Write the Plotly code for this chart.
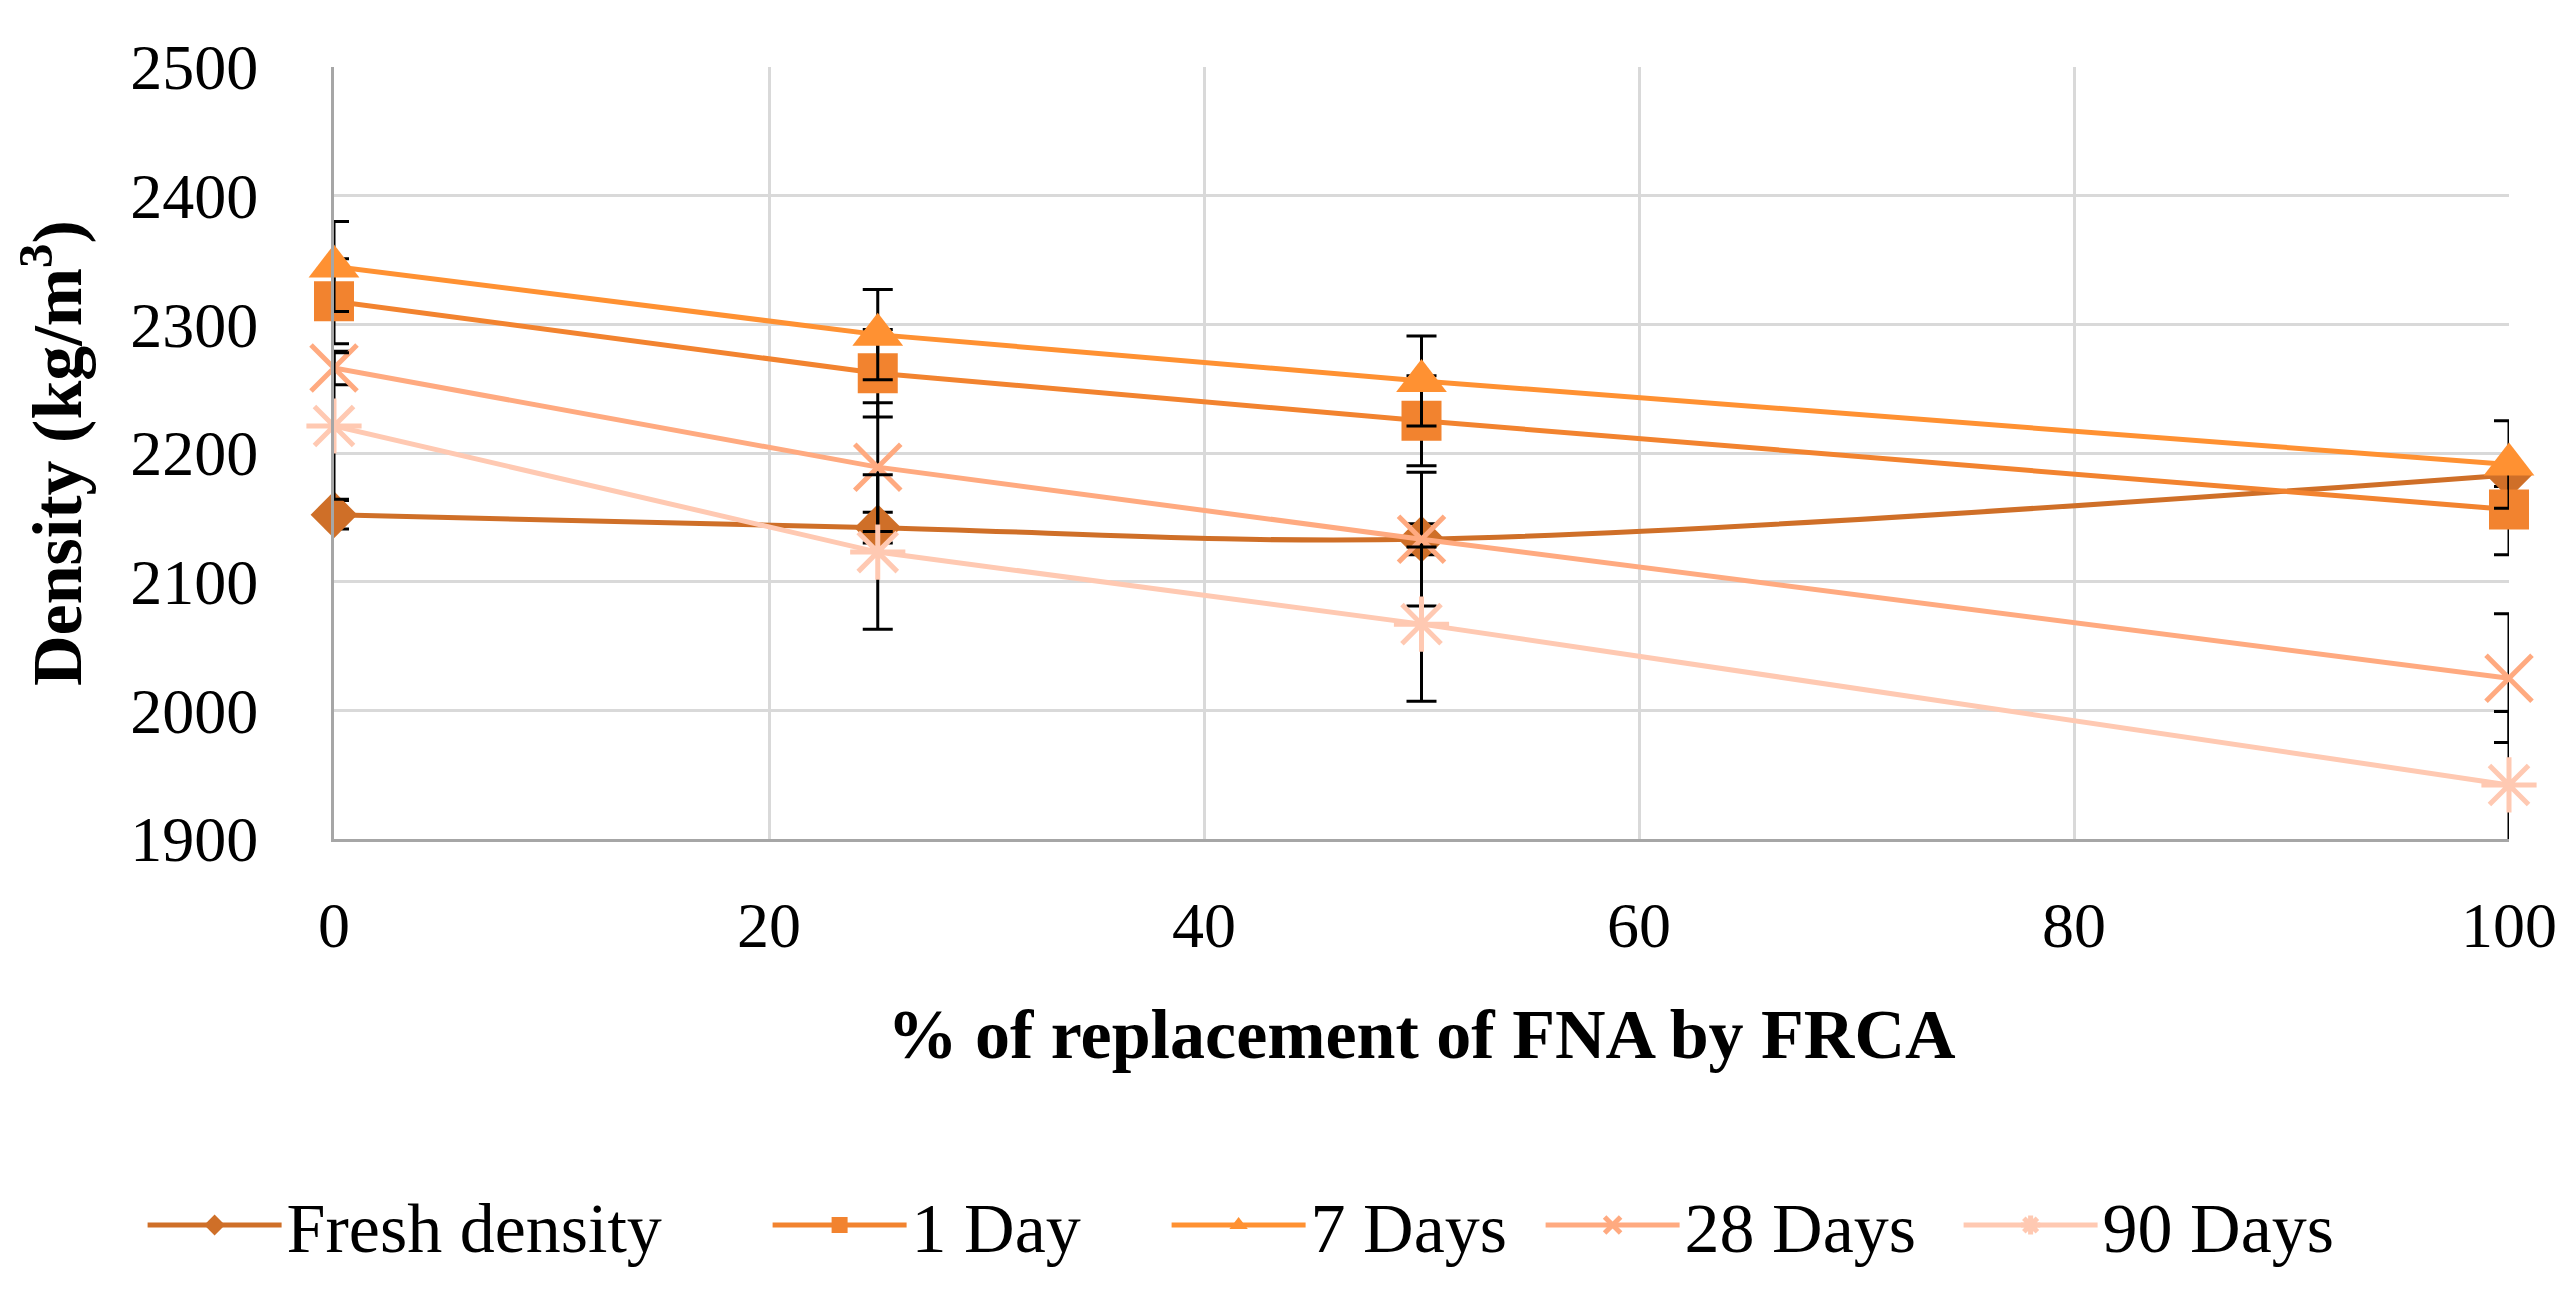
import plotly.graph_objects as go

x_vals = [0, 25, 50, 100]
series_names = ["Fresh density", "1 Day", "7 Days", "28 Days", "90 Days"]
fresh = [2152, 2142, 2133, 2183]
day1 = [2318, 2262, 2225, 2156]
day7 = [2345, 2292, 2256, 2191]
day28 = [2266, 2189, 2133, 2025]
day90 = [2221, 2123, 2067, 1942]
err_fresh = [11, 12, 12, 9]
err_day1 = [33, 34, 35, 35]
err_day7 = [35, 35, 35, 34]
err_day28 = [13, 50, 52, 50]
err_day90 = [57, 60, 60, 57]
x_ticks = [0, 20, 40, 60, 80, 100]
y_ticks = [1900, 2000, 2100, 2200, 2300, 2400, 2500]

colors = ["#CF6F28", "#F2832F", "#FF9132", "#FFAA80", "#FFC9B2"]
symbols = ["diamond", "square", "triangle-up", "x-thin-open", "asterisk-open"]
sizes = [36, 40, 44, 46, 46]
shapes = ["spline", "linear", "linear", "linear", "linear"]
legend_widths = [476, 250, 225, 269, 269]
values = [fresh, day1, day7, day28, day90]
errors = [err_fresh, err_day1, err_day7, err_day28, err_day90]

FONT = "Palatino Linotype, Book Antiqua, Liberation Serif, serif"

fig = go.Figure()
for name, ys, er, c, sym, sz, shp, lw in zip(series_names, values, errors, colors,
                                              symbols, sizes, shapes, legend_widths):
    open_sym = sym.endswith("open")
    fig.add_trace(go.Scatter(
        x=x_vals, y=ys, name=name, mode="lines+markers",
        line=dict(color=c, width=5, shape=shp, smoothing=1),
        marker=dict(symbol=sym, size=sz, color=c,
                    line=dict(color=c, width=5 if open_sym else 0)),
        error_y=dict(type="data", array=er, visible=True, color="black",
                     thickness=3, width=15),
        cliponaxis=False,
        legendwidth=lw,
    ))

fig.update_layout(
    width=2571, height=1292,
    paper_bgcolor="white", plot_bgcolor="white",
    margin=dict(l=326, r=70, t=59, b=461),
    font=dict(family=FONT, size=64, color="black"),
    showlegend=True,
    legend=dict(orientation="h", x=-0.088, xanchor="left", y=-0.5, yanchor="middle",
                font=dict(family=FONT, size=70, color="black"),
                itemwidth=134, tracegroupgap=0, itemsizing="trace"),
)
fig.update_xaxes(
    range=[0, 100], tickvals=x_ticks, ticks="", ticklabelstandoff=28,
    showgrid=True, gridcolor="#D9D9D9", gridwidth=3,
    showline=True, linecolor="#A6A6A6", linewidth=3, zeroline=False,
    title=dict(text="<b>% of replacement of FNA by FRCA</b>", standoff=50,
               font=dict(family=FONT, size=70)),
    tickfont=dict(family=FONT, size=64),
)
fig.update_yaxes(
    range=[1900, 2500], tickvals=y_ticks, ticks="", ticklabelstandoff=60,
    showgrid=True, gridcolor="#D9D9D9", gridwidth=3,
    showline=True, linecolor="#A6A6A6", linewidth=3, zeroline=False,
    title=dict(text="<b>Density (kg/m<sup>3</sup>)</b>", standoff=28,
               font=dict(family=FONT, size=70)),
    tickfont=dict(family=FONT, size=64),
)

fig.write_html("out.html")
